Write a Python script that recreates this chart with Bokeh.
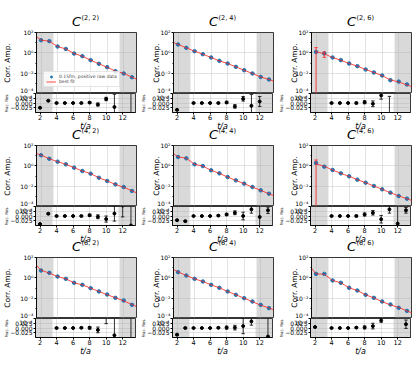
import numpy as np
from bokeh.plotting import figure
from bokeh.layouts import column, row
from bokeh.models import (Range1d, FixedTicker, CustomJSTickFormatter, BoxAnnotation,
                          Label, Legend, LegendItem)
from bokeh.embed import file_html
from bokeh.resources import INLINE

nan = float("nan")

# ---------------- data ----------------
t_data = [2, 3, 4, 5, 6, 7, 8, 9, 10, 11, 12, 13]
t_fit = [1, 2, 3, 4, 5, 6, 7, 8, 9, 10, 11, 12, 13, 14]
x_ticks = [2, 4, 6, 8, 10, 12]
amp_ticks = [1e-4, 1e-2, 1e0, 1e2]
amp_minor = [1e-3, 1e-1, 1e1]
res_ticks = [-0.025, 0.0, 0.025]
t_cut_lo = 3.5
t_cut_hi = 11.5
panel_keys = [["22", "24", "26"], ["42", "44", "46"], ["62", "64", "66"]]
panel_labels = {"22": "(2, 2)", "24": "(2, 4)", "26": "(2, 6)",
                "42": "(4, 2)", "44": "(4, 4)", "46": "(4, 6)",
                "62": "(6, 2)", "64": "(6, 4)", "66": "(6, 6)"}
legend_data = "0.15fm, positive raw data"
legend_fit = "best fit"
y_label_main = "Corr. Amp."
y_label_res = "Frac. Res."
x_label = "t/a"

amp_22 = [17.4, 14.1, 4.17, 2.40, 0.851, 0.468, 0.191, 0.0832, 0.0389, 0.0158, 0.00933, 0.00398]
amp_24 = [6.61, 3.09, 1.45, 0.741, 0.347, 0.162, 0.0891, 0.0417, 0.0195, 0.00933, 0.00427, 0.00240]
amp_26 = [1.23, 0.851, 0.347, 0.191, 0.0891, 0.0490, 0.0229, 0.0117, 0.00589, 0.00204, 0.00148, 0.000776]
amp_42 = [11.0, 5.01, 2.57, 1.41, 0.661, 0.309, 0.170, 0.0676, 0.0324, 0.0151, 0.00832, 0.00339]
amp_44 = [7.41, 5.50, 1.41, 0.955, 0.363, 0.182, 0.0794, 0.0372, 0.0178, 0.00832, 0.00389, 0.00182]
amp_46 = [1.91, 0.832, 0.389, 0.182, 0.0933, 0.0437, 0.0219, 0.0105, 0.00490, 0.00229, 0.00107, 0.000589]
amp_62 = [5.25, 3.09, 1.35, 0.794, 0.324, 0.204, 0.0955, 0.0457, 0.0229, 0.0107, 0.00589, 0.00219]
amp_64 = [3.63, 1.70, 0.794, 0.437, 0.204, 0.105, 0.0457, 0.0214, 0.0100, 0.00468, 0.00219, 0.00105]
amp_66 = [2.45, 2.45, 0.550, 0.324, 0.105, 0.0562, 0.0214, 0.0107, 0.00468, 0.00240, 0.00112, 0.000562]

amp_rel_err = [0.01, 0.01, 0.01, 0.012, 0.015, 0.02, 0.03, 0.04, 0.05, 0.07, 0.10, 0.14]

fit_22 = [79.0, 17.8, 13.9, 4.17, 2.40, 0.851, 0.468, 0.190, 0.0838, 0.0381, 0.0161, 0.00960, 0.00400, 0.00178]
fit_24 = [14.1, 6.85, 3.09, 1.45, 0.741, 0.347, 0.162, 0.0889, 0.0424, 0.0191, 0.00945, 0.00424, 0.00240, 0.00120]
fit_26 = [nan, 1.30, 0.80, 0.347, 0.191, 0.0891, 0.0490, 0.0228, 0.0117, 0.00566, 0.00220, 0.00135, 0.00069, 0.00036]
fit_42 = [21.4, 11.5, 4.95, 2.57, 1.41, 0.661, 0.309, 0.169, 0.0679, 0.0329, 0.0149, 0.00780, 0.00350, 0.00151]
fit_44 = [29.5, 7.58, 5.65, 1.41, 0.955, 0.363, 0.182, 0.0788, 0.0366, 0.0178, 0.00804, 0.00391, 0.00177, 0.00085]
fit_46 = [nan, 1.50, 0.915, 0.389, 0.182, 0.0933, 0.0437, 0.0217, 0.0103, 0.00498, 0.00221, 0.00111, 0.000572, 0.000295]
fit_62 = [40.7, 5.70, 2.89, 1.35, 0.794, 0.324, 0.204, 0.0954, 0.0462, 0.0215, 0.0111, 0.00535, 0.00243, 0.00100]
fit_64 = [10.7, 3.76, 1.70, 0.794, 0.437, 0.204, 0.105, 0.0456, 0.0214, 0.0099, 0.00452, 0.00201, 0.00110, 0.00050]
fit_66 = [25.7, 2.44, 2.29, 0.550, 0.324, 0.105, 0.0561, 0.0213, 0.0106, 0.00448, 0.00218, 0.00124, 0.000554, 0.00027]

fit_err_22 = [0, 0, 0, 0, 0, 0, 0, 0, 0, 0, 0, 0]
fit_err_24 = [0, 0, 0, 0, 0, 0, 0, 0, 0, 0, 0, 0]
fit_err_26 = [1.5, 0.55, 0, 0, 0, 0, 0, 0, 0, 0, 0, 0]
fit_err_42 = [0, 0, 0, 0, 0, 0, 0, 0, 0, 0, 0, 0]
fit_err_44 = [0, 0, 0, 0, 0, 0, 0, 0, 0, 0, 0, 0]
fit_err_46 = [1.5, 0, 0, 0, 0, 0, 0, 0, 0, 0, 0, 0]
fit_err_62 = [0, 0, 0, 0, 0, 0, 0, 0, 0, 0, 0, 0]
fit_err_64 = [0, 0, 0, 0, 0, 0, 0, 0, 0, 0, 0, 0]
fit_err_66 = [0, 0, 0, 0, 0, 0, 0, 0, 0, 0, 0, 0]

res_22 = [-0.025, 0.012, 0.0, 0.0, 0.0, 0.0, 0.002, -0.008, 0.021, -0.021, 0.09, -0.10]
err_22 = [0.002, 0.002, 0.001, 0.001, 0.001, 0.002, 0.004, 0.008, 0.009, 0.067, 0.03, 0.20]
res_24 = [-0.036, -0.07, 0.0, 0.0, 0.0, 0.0, 0.003, -0.018, 0.022, -0.015, 0.008, 0.08]
err_24 = [0.002, 0.003, 0.001, 0.001, 0.002, 0.003, 0.006, 0.009, 0.012, 0.06, 0.026, 0.02]
res_26 = [-0.06, 0.064, 0.0, 0.0, 0.0, 0.0, 0.004, -0.004, 0.04, -0.07, 0.10, 0.12]
err_26 = [0.004, 0.006, 0.001, 0.002, 0.002, 0.004, 0.008, 0.015, 0.02, 0.105, 0.04, 0.05]
res_42 = [-0.042, 0.012, 0.0, 0.0, 0.0, 0.0, 0.004, -0.004, -0.016, 0.013, 0.055, -0.05]
err_42 = [0.002, 0.003, 0.001, 0.001, 0.001, 0.003, 0.006, 0.01, 0.016, 0.04, 0.06, 0.15]
res_44 = [-0.022, -0.027, 0.0, 0.0, 0.0, 0.002, 0.008, 0.017, 0.0, 0.035, -0.005, 0.03]
err_44 = [0.002, 0.003, 0.001, 0.001, 0.001, 0.003, 0.006, 0.01, 0.02, 0.02, 0.07, 0.017]
res_46 = [0.3, -0.09, 0.0, 0.0, 0.0, 0.0, 0.008, 0.017, -0.017, 0.035, -0.04, 0.03]
err_46 = [0.1, 0.02, 0.001, 0.001, 0.002, 0.004, 0.008, 0.012, 0.02, 0.02, 0.10, 0.015]
res_62 = [-0.08, 0.07, 0.0, 0.0, 0.0, 0.001, 0.001, -0.01, 0.065, -0.038, 0.10, -0.10]
err_62 = [0.003, 0.003, 0.001, 0.001, 0.001, 0.003, 0.007, 0.015, 0.042, 0.10, 0.03, 0.25]
res_64 = [-0.035, 0.0, 0.0, 0.0, 0.0, 0.001, 0.002, 0.002, 0.01, 0.035, 0.09, -0.045]
err_64 = [0.002, 0.002, 0.001, 0.001, 0.001, 0.003, 0.008, 0.012, 0.04, 0.02, 0.02, 0.10]
res_66 = [0.005, 0.07, 0.0, 0.0, 0.0, 0.002, 0.003, 0.01, 0.04, 0.10, -0.10, 0.02]
err_66 = [0.003, 0.003, 0.001, 0.001, 0.001, 0.003, 0.008, 0.015, 0.01, 0.03, 0.03, 0.022]

amps = {"22": amp_22, "24": amp_24, "26": amp_26, "42": amp_42, "44": amp_44,
        "46": amp_46, "62": amp_62, "64": amp_64, "66": amp_66}
fits = {"22": fit_22, "24": fit_24, "26": fit_26, "42": fit_42, "44": fit_44,
        "46": fit_46, "62": fit_62, "64": fit_64, "66": fit_66}
fit_errs = {"22": fit_err_22, "24": fit_err_24, "26": fit_err_26, "42": fit_err_42,
            "44": fit_err_44, "46": fit_err_46, "62": fit_err_62, "64": fit_err_64,
            "66": fit_err_66}
ress = {"22": res_22, "24": res_24, "26": res_26, "42": res_42, "44": res_44,
        "46": res_46, "62": res_62, "64": res_64, "66": res_66}
res_errs = {"22": err_22, "24": err_24, "26": err_26, "42": err_42, "44": err_44,
            "46": err_46, "62": err_62, "64": err_64, "66": err_66}

# ---------------- style / layout ----------------
FONT = "DejaVu Sans"
BLUE = "#1f77b4"
RED = "#ff2020"
GRID = "#b0b0b0"
X_LO, X_HI = 1.45, 13.55
RES_LO, RES_HI = -0.05, 0.05
AMP_LO, AMP_HI = 1e-4, 1e2
FRAME_W = 100
MAIN_H = 61
RES_H = 19
MAIN_TOP = 4
RES_BOTTOM = 10

col_left = [35, 35, 35]
col_right = [2, 3, 3]
main_label_standoff = [5, -7, -7]
res_label_standoff = [-2, -2, -2]
band_heights = [28, 19, 18, 13]
TOTAL_W = sum(col_left) + 3 * FRAME_W + sum(col_right)


def frame_center(c):
    x0 = 0
    for k in range(c):
        x0 += col_left[k] + FRAME_W + col_right[k]
    return x0 + col_left[c] + FRAME_W / 2


LOG_JS = """
const sup = {"-": "\\u207b", "0": "\\u2070", "1": "\\u00b9", "2": "\\u00b2",
             "3": "\\u00b3", "4": "\\u2074", "5": "\\u2075", "6": "\\u2076"};
const e = Math.round(Math.log10(tick));
let s = "";
for (const ch of String(e)) { s += sup[ch]; }
return "10" + s;
"""
# the residual panel's top edge coincides with the bottom (1e-4) of the amplitude panel:
# its label is completed there, as in the reference where it spills over
RES_JS = """
if (Math.abs(tick - 0.05) < 1e-9) { return "10\\u207b\\u2074"; }
if (Math.abs(tick) < 1e-9) { return "0.000"; }
return tick.toFixed(3).replace("-", "\\u2212");
"""


def style_common(p):
    p.outline_line_color = "black"
    p.outline_line_width = 0.8
    for ax in p.axis:
        ax.axis_line_width = 0.8
        ax.major_tick_out = 2
        ax.major_tick_in = 0
        ax.minor_tick_out = 1
        ax.minor_tick_in = 0
        ax.major_label_standoff = 1
        ax.major_label_text_font = FONT
        ax.major_label_text_color = "black"
        ax.axis_label_text_font = FONT
        ax.axis_label_text_font_style = "normal"
        ax.axis_label_text_color = "black"
    for g in p.grid:
        g.grid_line_color = GRID
        g.grid_line_alpha = 0.6
        g.grid_line_width = 0.6
    for box in (BoxAnnotation(right=t_cut_lo, fill_color="gray", fill_alpha=0.3,
                              line_color=None, level="image"),
                BoxAnnotation(left=t_cut_hi, fill_color="gray", fill_alpha=0.3,
                              line_color=None, level="image")):
        p.add_layout(box)


def make_main(key, r, c):
    p = figure(frame_width=FRAME_W, frame_height=MAIN_H,
               x_range=Range1d(X_LO, X_HI), y_range=Range1d(AMP_LO, AMP_HI),
               y_axis_type="log", output_backend="svg", toolbar_location=None, title=None,
               min_border_left=col_left[c], min_border_right=col_right[c],
               min_border_top=MAIN_TOP, min_border_bottom=0)
    p.xaxis.visible = False
    p.xgrid.ticker = FixedTicker(ticks=x_ticks)
    p.yaxis.ticker = FixedTicker(ticks=amp_ticks, minor_ticks=amp_minor)
    p.ygrid.ticker = FixedTicker(ticks=amp_ticks)
    p.yaxis.formatter = CustomJSTickFormatter(code=LOG_JS)
    p.yaxis.major_label_text_font_size = "6px"
    style_common(p)
    p.yaxis.axis_label = y_label_main
    p.yaxis.axis_label_text_font_size = "7.5px"
    p.yaxis.axis_label_standoff = main_label_standoff[c]

    amp = np.array(amps[key])
    rel = np.array(amp_rel_err)
    lo = amp * (1 - rel)
    hi = amp * (1 + rel)
    p.segment(t_data, lo, t_data, hi, line_color=BLUE, line_width=0.8)
    p.scatter(t_data, lo, marker="dash", size=3.5, line_color=BLUE, line_width=0.8)
    p.scatter(t_data, hi, marker="dash", size=3.5, line_color=BLUE, line_width=0.8)
    pts = p.scatter(t_data, amp, marker="circle", size=3.5, fill_color=BLUE, line_color=BLUE)

    fit = np.array(fits[key], dtype=float)
    fit_r = p.line(t_fit, fit, line_color=RED, line_width=1, line_alpha=0.8)
    ferr = np.array(fit_errs[key], dtype=float)
    fit_at = fit[1:13]
    mask = ferr > 0
    if mask.any():
        tt = np.array(t_data)[mask]
        fl = np.maximum(fit_at[mask] * (1 - ferr[mask]), 1e-8)
        fh = fit_at[mask] * (1 + ferr[mask])
        p.segment(tt, fl, tt, fh, line_color=RED, line_width=1, line_alpha=0.8)
        p.scatter(tt, fl, marker="dash", size=3.5, line_color=RED, line_alpha=0.8)
        p.scatter(tt, fh, marker="dash", size=3.5, line_color=RED, line_alpha=0.8)

    if key == "22":
        legend = Legend(items=[LegendItem(label=legend_data, renderers=[pts]),
                               LegendItem(label=legend_fit, renderers=[fit_r])],
                        location=(7, 6), orientation="vertical", padding=2, spacing=0,
                        margin=0, label_text_font=FONT, label_text_font_size="4.5px",
                        label_height=5, label_standoff=3, glyph_height=5, glyph_width=10,
                        border_line_color="#cccccc", border_line_width=0.5,
                        background_fill_alpha=0.8)
        p.add_layout(legend)
    return p


def make_res(key, r, c):
    p = figure(frame_width=FRAME_W, frame_height=RES_H,
               x_range=Range1d(X_LO, X_HI), y_range=Range1d(RES_LO, RES_HI),
               output_backend="svg", toolbar_location=None, title=None,
               min_border_left=col_left[c], min_border_right=col_right[c],
               min_border_top=0, min_border_bottom=RES_BOTTOM)
    p.xaxis.ticker = FixedTicker(ticks=x_ticks)
    p.xgrid.ticker = FixedTicker(ticks=x_ticks)
    p.yaxis.ticker = FixedTicker(ticks=res_ticks + [RES_HI])
    p.ygrid.ticker = FixedTicker(ticks=res_ticks)
    p.yaxis.formatter = CustomJSTickFormatter(code=RES_JS)
    p.xaxis.major_label_text_font_size = "6.5px"
    p.yaxis.major_label_text_font_size = "6px"
    p.xaxis.minor_tick_line_color = None
    p.yaxis.minor_tick_line_color = None
    style_common(p)
    p.xaxis.major_label_standoff = 0
    p.yaxis.axis_label = y_label_res
    p.yaxis.axis_label_text_font_size = "4px"
    p.yaxis.axis_label_standoff = res_label_standoff[c]

    res = np.array(ress[key])
    err = np.array(res_errs[key])
    p.segment(t_data, res - err, t_data, res + err, line_color="black", line_width=0.8)
    p.scatter(t_data, res - err, marker="dash", size=3.5, line_color="black", line_width=0.8)
    p.scatter(t_data, res + err, marker="dash", size=3.5, line_color="black", line_width=0.8)
    p.scatter(t_data, res, marker="circle", size=3, fill_color="black", line_color="black")
    return p


def make_band(height, title_row=None, xlabel=False):
    b = figure(width=TOTAL_W, height=height, x_range=Range1d(0, TOTAL_W),
               y_range=Range1d(0, height), x_axis_type=None, y_axis_type=None,
               toolbar_location=None, output_backend="svg", title=None, min_border=0)
    b.outline_line_color = None
    for c in range(3):
        xc = frame_center(c)
        if xlabel:
            b.add_layout(Label(x=xc, y=height - 4, text=x_label, text_align="center",
                               text_baseline="middle", text_font=FONT,
                               text_font_style="italic", text_font_size="8px",
                               text_color="black"))
        if title_row is not None:
            key = panel_labels[panel_keys[title_row][c]]
            b.add_layout(Label(x=xc - 4.5, y=6.6, text="C", text_align="right",
                               text_baseline="middle", text_font=FONT,
                               text_font_style="italic", text_font_size="13px",
                               text_color="black"))
            b.add_layout(Label(x=xc - 4, y=11.0, text=key, text_align="left",
                               text_baseline="middle", text_font=FONT,
                               text_font_size="6.5px", text_color="black"))
    return b


items = [make_band(band_heights[0], title_row=0)]
for r in range(3):
    items.append(row(*[make_main(panel_keys[r][c], r, c) for c in range(3)], spacing=0))
    items.append(row(*[make_res(panel_keys[r][c], r, c) for c in range(3)], spacing=0))
    items.append(make_band(band_heights[r + 1], title_row=(r + 1 if r < 2 else None),
                           xlabel=True))
layout = column(*items, spacing=0)

open("out.html", "w").write(file_html(layout, INLINE))
